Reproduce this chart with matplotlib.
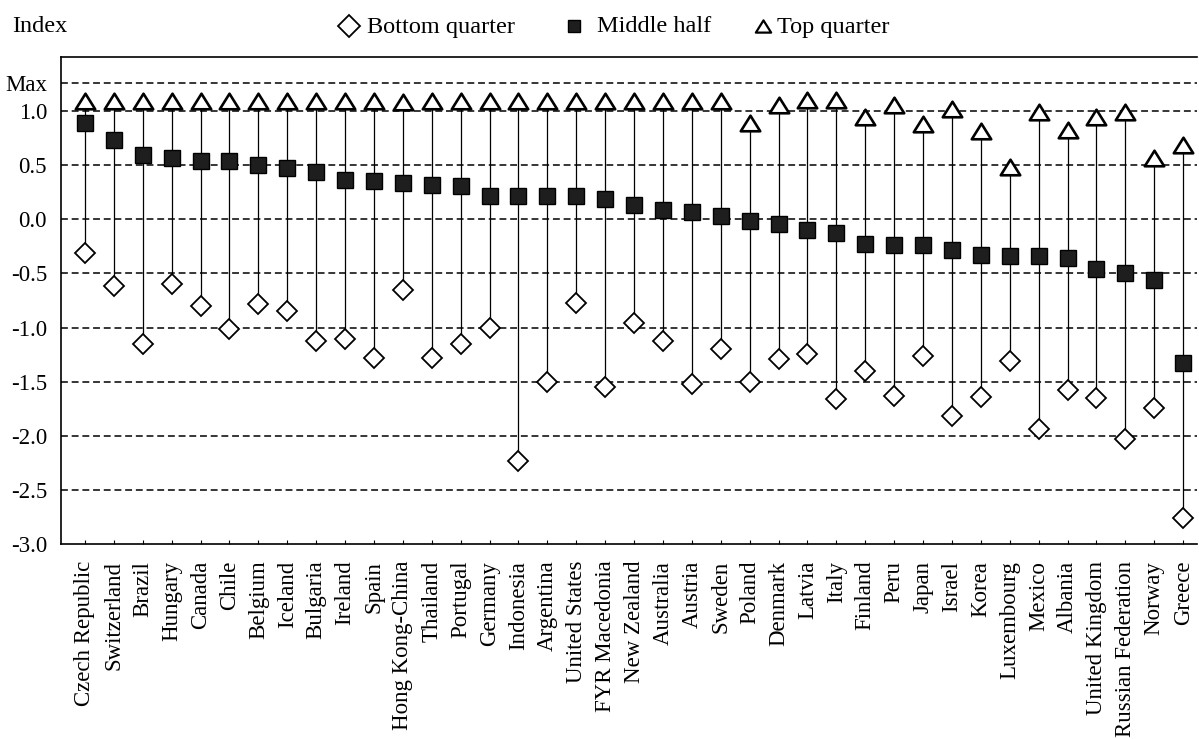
import matplotlib
matplotlib.use("Agg")
import matplotlib.pyplot as plt
from matplotlib.lines import Line2D
from matplotlib.path import Path
import numpy as np

countries = ["Czech Republic", "Switzerland", "Brazil", "Hungary", "Canada", "Chile",
             "Belgium", "Iceland", "Bulgaria", "Ireland", "Spain", "Hong Kong-China",
             "Thailand", "Portugal", "Germany", "Indonesia", "Argentina", "United States",
             "FYR Macedonia", "New Zealand", "Australia", "Austria", "Sweden", "Poland",
             "Denmark", "Latvia", "Italy", "Finland", "Peru", "Japan", "Israel", "Korea",
             "Luxembourg", "Mexico", "Albania", "United Kingdom", "Russian Federation",
             "Norway", "Greece"]

middle_half = [0.89, 0.73, 0.59, 0.57, 0.54, 0.54, 0.50, 0.47, 0.44, 0.36, 0.35, 0.335,
               0.32, 0.31, 0.22, 0.22, 0.215, 0.215, 0.19, 0.13, 0.09, 0.07, 0.03, -0.02,
               -0.04, -0.095, -0.13, -0.23, -0.24, -0.24, -0.28, -0.33, -0.34, -0.34,
               -0.36, -0.46, -0.50, -0.56, -1.33]

top_quarter = [1.09, 1.09, 1.09, 1.09, 1.09, 1.09, 1.09, 1.09, 1.09, 1.09, 1.09, 1.08,
               1.09, 1.09, 1.09, 1.09, 1.09, 1.09, 1.09, 1.09, 1.09, 1.09, 1.09, 0.89,
               1.06, 1.10, 1.10, 0.95, 1.06, 0.88, 1.02, 0.815, 0.485, 0.99, 0.83, 0.95,
               0.99, 0.57, 0.69]

bottom_quarter = [-0.31, -0.615, -1.15, -0.60, -0.80, -1.01, -0.785, -0.85, -1.12, -1.105,
                  -1.28, -0.65, -1.28, -1.155, -1.005, -2.23, -1.50, -0.77, -1.55, -0.955,
                  -1.12, -1.52, -1.20, -1.50, -1.29, -1.24, -1.66, -1.40, -1.63, -1.26,
                  -1.82, -1.64, -1.31, -1.94, -1.58, -1.65, -2.03, -1.74, -2.76]

y_ticks = [-3.0, -2.5, -2.0, -1.5, -1.0, -0.5, 0.0, 0.5, 1.0]
y_tick_labels = ["-3.0", "-2.5", "-2.0", "-1.5", "-1.0", "-0.5", "0.0", "0.5", "1.0"]
max_level = 1.26
legend_labels = ["Bottom quarter", "Middle half", "Top quarter"]

FONT = "Liberation Serif"
FS = 16.5
FS_LEG = 17.5
plt.rcParams['font.family'] = [FONT, 'DejaVu Serif']

W, H = 1199, 739
fig = plt.figure(figsize=(W / 100, H / 100), dpi=100)
ax = fig.add_axes([61 / W, (H - 544) / H, (1197 - 61) / W, (544 - 57) / H])

x = np.arange(len(countries))

# grid
for yv in y_ticks[1:] + [max_level]:
    ax.axhline(yv, color='black', lw=1.1, ls=(0, (4.5, 2.5)), zorder=1)

# vertical range lines
ax.vlines(x, bottom_quarter, top_quarter, color='black', lw=0.9, zorder=2)

tri = Path([(-1, -0.8), (1, -0.8), (0, 0.8), (-1, -0.8)],
           [Path.MOVETO, Path.LINETO, Path.LINETO, Path.CLOSEPOLY])
ax.plot(x, bottom_quarter, ls='none', marker='D', ms=10, mfc='white', mec='black',
        mew=1.3, zorder=3)
ax.plot(x, middle_half, ls='none', marker='s', ms=11, mfc='#1e1e1e', mec='black',
        mew=1, zorder=3)
ax.plot(x, top_quarter, ls='none', marker=tri, ms=14, mfc='white', mec='black',
        mew=1.9, zorder=3)

ax.set_xlim(-0.83, 38.48)
ax.set_ylim(-3.0, 1.5)

ax.set_yticks(y_ticks + [max_level])
ax.set_yticklabels(y_tick_labels + ["Max"], fontsize=FS, family=FONT)
ax.tick_params(axis='y', length=0, pad=10)

ax.set_xticks(x)
ax.set_xticklabels(countries, rotation=90, fontsize=FS, family=FONT, va='top', ha='center')
ax.tick_params(axis='x', length=3, direction='in', pad=12, width=0.8)

for s in ['left', 'bottom', 'top']:
    ax.spines[s].set_linewidth(1.2)
ax.spines['right'].set_visible(False)

# header: "Index" and legend
fig.text(12 / W, 1 - 27 / H, "Index", fontsize=FS_LEG, family=FONT, ha='left', va='center')

leg_y = 1 - 26 / H
markers = [('D', 11, 'white', 1.3, 349), ('s', 8.5, '#1e1e1e', 1, 574), (tri, 11, 'white', 1.6, 763)]
text_x = [367, 597, 777]
for (m, ms, fc, mew, mx), lab, tx in zip(markers, legend_labels, text_x):
    fig.add_artist(Line2D([mx / W], [leg_y], transform=fig.transFigure, ls='none',
                          marker=m, ms=ms, mfc=fc, mec='black', mew=mew))
    fig.text(tx / W, 1 - 27 / H, lab, fontsize=FS_LEG, family=FONT, ha='left', va='center')

fig.savefig("out.png", dpi=100)
